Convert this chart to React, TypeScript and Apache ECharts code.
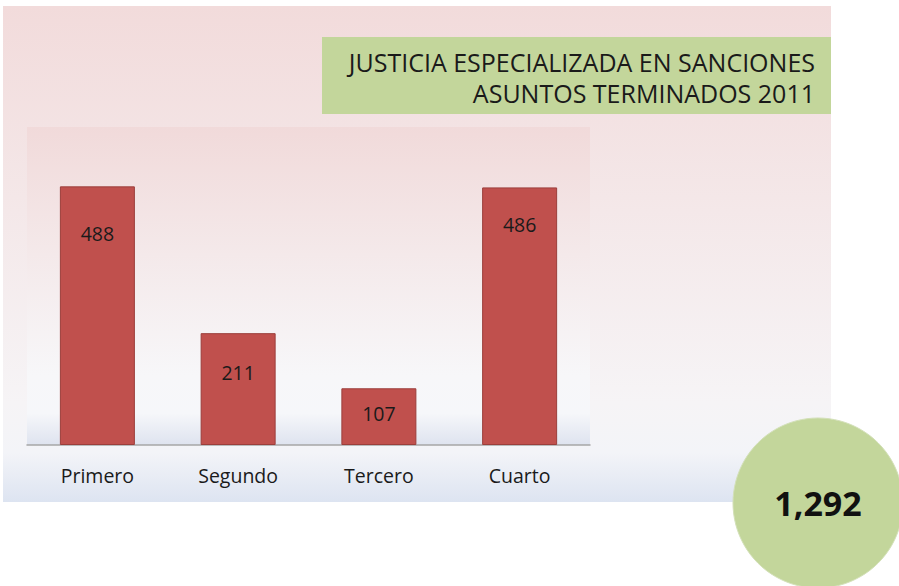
import React, { useEffect, useRef } from "react";
import * as echarts from "echarts";

const categories: string[] = ["Primero", "Segundo", "Tercero", "Cuarto"];
const values: number[] = [488, 211, 107, 486];
const titleLines: string[] = ["JUSTICIA ESPECIALIZADA EN SANCIONES", "ASUNTOS TERMINADOS 2011"];
const totalLabel = "1,292";

const FONT = "'Open Sans', 'Noto Sans', sans-serif";

export default function App() {
  const ref = useRef<HTMLDivElement>(null);
  useEffect(() => {
    if (!ref.current) return;
    const chart = echarts.init(ref.current, null, { renderer: "svg" });
    const labelDist = [37, 29, 15, 27];
    const option: any = {
      animation: false,
      backgroundColor: "#ffffff",
      grid: { left: 27, top: 127, width: 563, height: 318, containLabel: false },
      xAxis: {
        type: "category",
        data: categories,
        axisTick: { show: false },
        axisLine: { show: true, lineStyle: { color: "#A6A6A6", width: 1.5 } },
        axisLabel: { color: "#1a1a1a", fontSize: 19.5, fontFamily: FONT, margin: 20 },
      },
      yAxis: {
        type: "value",
        min: 0,
        max: 600,
        show: false,
        splitLine: { show: false },
      },
      series: [
        {
          type: "bar",
          barWidth: 75,
          z: 5,
          data: values.map((v, i) => ({
            value: v,
            label: { distance: labelDist[i] },
          })),
          itemStyle: { color: "#C0504D", borderColor: "#9B3E3B", borderWidth: 1 },
          label: {
            show: true,
            position: "insideTop",
            color: "#1a1a1a",
            fontSize: 19.5,
            fontFamily: FONT,
          },
        },
      ],
      graphic: [
        {
          type: "rect",
          z: -20,
          shape: { x: 3, y: 6, width: 828, height: 496 },
          style: {
            fill: new echarts.graphic.LinearGradient(0, 0, 0, 1, [
              { offset: 0, color: "#F2DBDB" },
              { offset: 0.8, color: "#F6F4F6" },
              { offset: 0.9, color: "#F3F4F8" },
              { offset: 1, color: "#DDE4F1" },
            ]),
          },
        },
        {
          type: "rect",
          z: -10,
          shape: { x: 27, y: 127, width: 563, height: 318 },
          style: {
            fill: new echarts.graphic.LinearGradient(0, 0, 0, 1, [
              { offset: 0, color: "#F1DADA" },
              { offset: 0.78, color: "#F7F7F9" },
              { offset: 0.9, color: "#F6F7FA" },
              { offset: 1, color: "#DEE3EF" },
            ]),
          },
        },
        {
          type: "rect",
          z: -5,
          shape: { x: 322, y: 37, width: 509, height: 77 },
          style: { fill: "#C3D69B" },
        },
        {
          type: "text",
          z: 10,
          x: 815,
          y: 62,
          style: {
            text: titleLines[0],
            fill: "#1a1a1a",
            fontSize: 25,
            fontFamily: FONT,
            align: "right",
            verticalAlign: "middle",
          },
        },
        {
          type: "text",
          z: 10,
          x: 815,
          y: 93,
          style: {
            text: titleLines[1],
            fill: "#1a1a1a",
            fontSize: 25,
            fontFamily: FONT,
            align: "right",
            verticalAlign: "middle",
          },
        },
        {
          type: "circle",
          z: 50,
          shape: { cx: 818, cy: 503, r: 85 },
          style: { fill: "#C3D69B", stroke: "#D3E0B8", lineWidth: 1 },
        },
        {
          type: "text",
          z: 60,
          x: 818,
          y: 503,
          style: {
            text: totalLabel,
            fill: "#111111",
            fontSize: 34,
            fontWeight: "bold",
            fontFamily: FONT,
            align: "center",
            verticalAlign: "middle",
          },
        },
      ],
    };
    chart.setOption(option);
    return () => chart.dispose();
  }, []);
  return (
    <div
      ref={ref}
      style={{ position: "fixed", left: 0, top: 0, width: 899, height: 586 }}
    />
  );
}
